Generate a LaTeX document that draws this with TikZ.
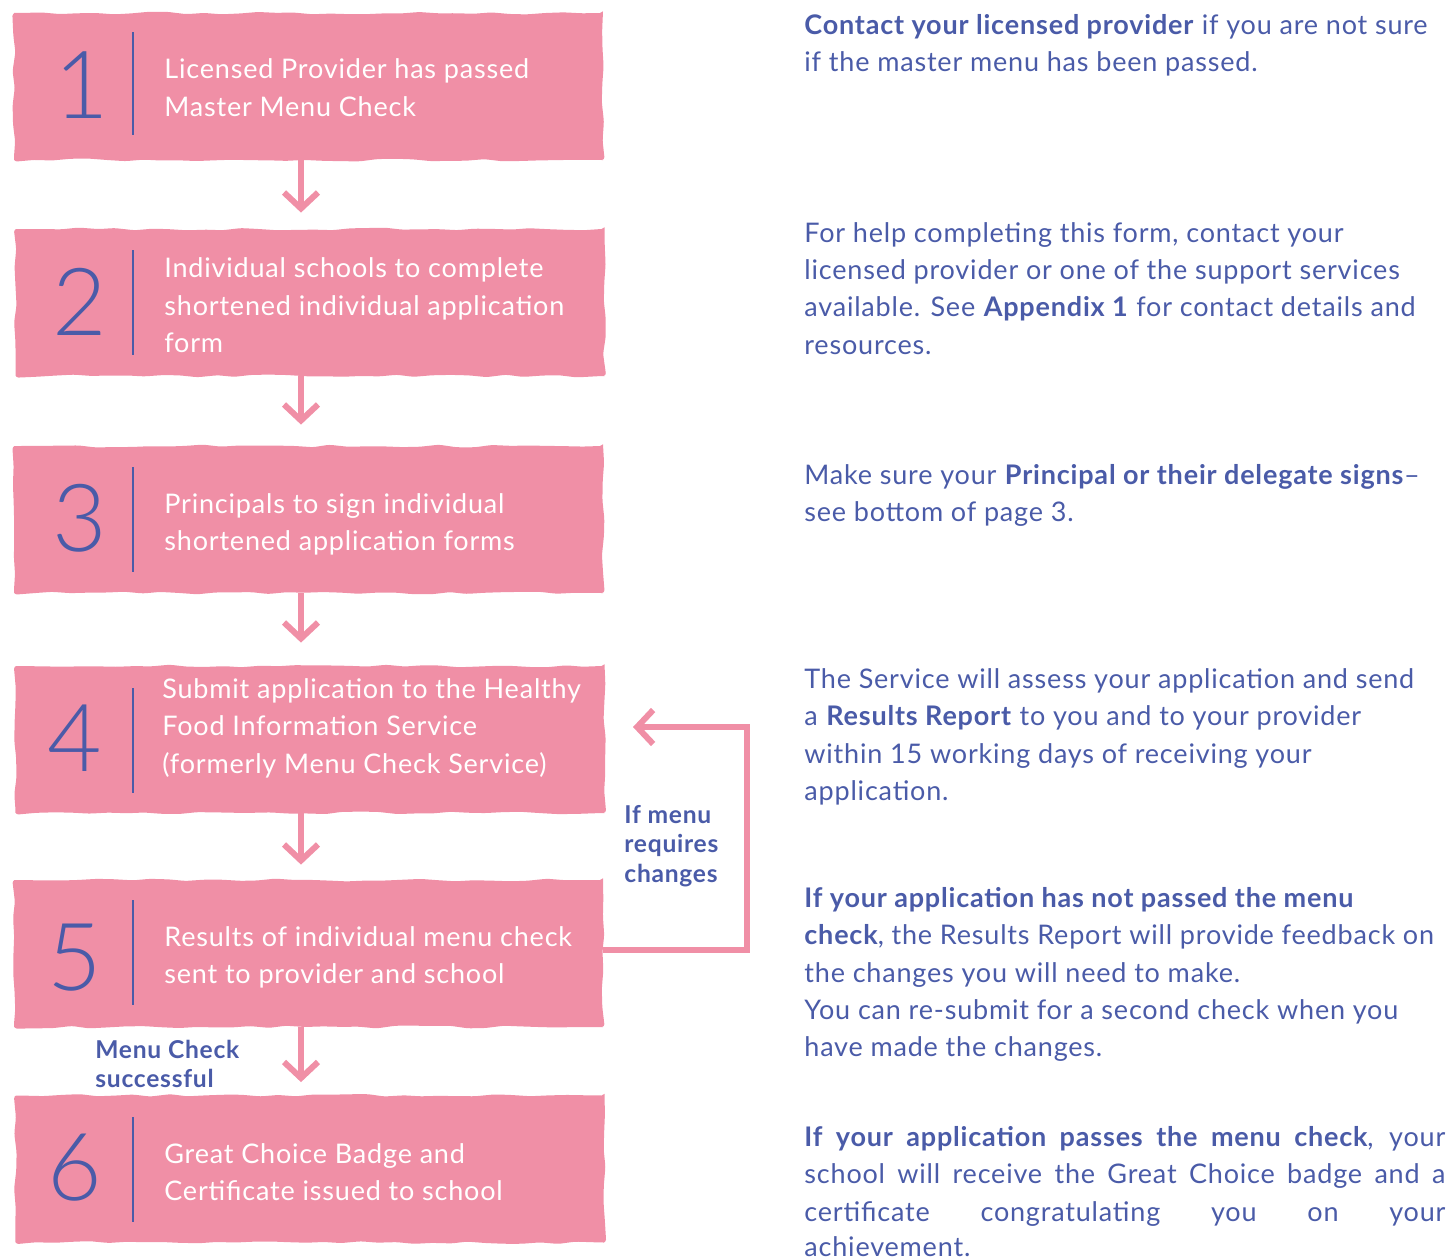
\documentclass[tikz,border=0pt]{standalone}
\usepackage{fontspec}
\setmainfont{Lato}[LetterSpace=3]
\newfontfamily\numfont{Lato Light}
\usetikzlibrary{decorations.pathmorphing,arrows.meta}
\definecolor{pinkbox}{RGB}{240,143,166}
\definecolor{navy}{RGB}{74,91,168}
\begin{document}
\begin{tikzpicture}[x=0.5pt,y=-0.5pt,
  stepbox/.style={fill=pinkbox, inner sep=0pt, minimum width=294.5pt, minimum height=73.5pt,
    decorate, decoration={random steps, segment length=9pt, amplitude=0.7pt}, rounded corners=1.5pt},
  num/.style={font=\numfont\fontsize{47}{47}\selectfont, text=navy, inner sep=0pt},
  sep/.style={draw=navy, line width=1pt},
  boxtxt/.style={font=\fontsize{13.5}{18.75}\selectfont, text=white, anchor=mid west, inner sep=0pt, yshift=-1.8pt},
  righttxt/.style={font=\fontsize{13.5}{18.75}\selectfont, text=navy, anchor=mid west, inner sep=0pt, yshift=-1.8pt},
  sidetxt/.style={font=\bfseries\fontsize{12.3}{14.75}\selectfont, text=navy, anchor=mid west, inner sep=0pt, yshift=-1.5pt},
  flow/.style={draw=pinkbox, line width=3pt, -{Straight Barb[length=8pt,width=17pt]}}
]
\pgfmathsetseed{7}
\path[use as bounding box] (0,0) rectangle (1447,1258);

% boxes
\node[stepbox] (b1) at (308.5,86.5) {};
\node[stepbox] (b2) at (310,302.5) {};
\node[stepbox] (b3) at (308.5,519.5) {};
\node[stepbox] (b4) at (310,739.5) {};
\node[stepbox] (b5) at (308.5,953.5) {};
\node[stepbox] (b6) at (310,1169) {};

% numbers
\node[num] (n1) at (82,85) {1};
\node[num] (n2) at (80,302) {2};
\node[num] (n3) at (80,518) {3};
\node[num] (n4) at (75,738) {4};
\node[num] (n5) at (75,958) {5};
\node[num] (n6) at (75,1168) {6};

% separators
\draw[sep] (133,32) -- (133,135);
\draw[sep] (133,250) -- (133,355);
\draw[sep] (133,467) -- (133,572);
\draw[sep] (133,688) -- (133,793);
\draw[sep] (133,900) -- (133,1005);
\draw[sep] (133,1117) -- (133,1222);

% box texts
\node[boxtxt] (t1a) at (164,70) {Licensed Provider has passed};
\node[boxtxt] (t1b) at (164,108) {Master Menu Check};
\node[boxtxt] (t2a) at (164,269) {Individual schools to complete};
\node[boxtxt] (t2b) at (164,307) {shortened individual application};
\node[boxtxt] (t2c) at (164,344) {form};
\node[boxtxt] (t3a) at (164,505) {Principals to sign individual};
\node[boxtxt] (t3b) at (164,542) {shortened application forms};
\node[boxtxt] (t4a) at (162,690) {Submit application to the Healthy};
\node[boxtxt] (t4b) at (162,727) {Food Information Service};
\node[boxtxt] (t4c) at (162,765) {(formerly Menu Check Service)};
\node[boxtxt] (t5a) at (164,938) {Results of individual menu check};
\node[boxtxt] (t5b) at (164,975) {sent to provider and school};
\node[boxtxt] (t6a) at (164,1155) {Great Choice Badge and};
\node[boxtxt] (t6b) at (164,1192) {Certificate issued to school};

% arrows
\coordinate (ax) at (301,0);
\draw[flow, shorten >=8pt] (b1.south -| ax) -- (b2.north -| ax);
\draw[flow, shorten >=10.5pt] (b2.south -| ax) -- (b3.north -| ax);
\draw[flow, shorten >=11.5pt] (b3.south -| ax) -- (b4.north -| ax);
\draw[flow, shorten >=7.5pt] (b4.south -| ax) -- (b5.north -| ax);
\draw[flow, shorten >=6.5pt] (b5.south -| ax) -- (b6.north -| ax);

% feedback loop
\coordinate (la) at (747,950);
\coordinate (lb) at (747,727);
\coordinate (le) at (633,727);
\draw[flow] (b5.east |- la) -- (la) -- (lb) -- (le);

% side labels
\node[sidetxt] (s1a) at (624,815) {If menu};
\node[sidetxt] (s1b) at (624,844) {requires};
\node[sidetxt] (s1c) at (624,874) {changes};
\node[sidetxt] (s2a) at (95,1050) {Menu Check};
\node[sidetxt] (s2b) at (95,1079) {successful};

% right texts
\node[righttxt] (r1a) at (804,26) {\textbf{Contact your licensed provider} if you are not sure};
\node[righttxt] (r1b) at (804,63) {if the master menu has been passed.};

\node[righttxt] (r2a) at (804,234) {For help completing this form, contact your};
\node[righttxt] (r2b) at (804,271) {licensed provider or one of the support services};
\node[righttxt] (r2c) at (804,308) {available. See \textbf{Appendix 1} for contact details and};
\node[righttxt] (r2d) at (804,346) {resources.};

\node[righttxt] (r3a) at (804,476) {Make sure your \textbf{Principal or their delegate signs}--};
\node[righttxt] (r3b) at (804,513) {see bottom of page 3.};

\node[righttxt] (r4a) at (804,680) {The Service will assess your application and send};
\node[righttxt] (r4b) at (804,717) {a \textbf{Results Report} to you and to your provider};
\node[righttxt] (r4c) at (804,755) {within 15 working days of receiving your};
\node[righttxt] (r4d) at (804,792) {application.};

\node[righttxt] (r5a) at (804,899) {\textbf{If your application has not passed the menu}};
\node[righttxt] (r5b) at (804,936) {\textbf{check}, the Results Report will provide feedback on};
\node[righttxt] (r5c) at (804,974) {the changes you will need to make.};
\node[righttxt] (r5d) at (804,1011) {You can re-submit for a second check when you};
\node[righttxt] (r5e) at (804,1048) {have made the changes.};

\node[righttxt] (r6a) at (804,1138) {\makebox[320.5pt][s]{\textbf{If your application passes the menu check}, your}};
\node[righttxt] (r6b) at (804,1175) {\makebox[320.5pt][s]{school will receive the Great Choice badge and a}};
\node[righttxt] (r6c) at (804,1213) {\makebox[320.5pt][s]{certificate congratulating you on your}};
\node[righttxt] (r6d) at (804,1248) {achievement.};
\end{tikzpicture}
\end{document}
